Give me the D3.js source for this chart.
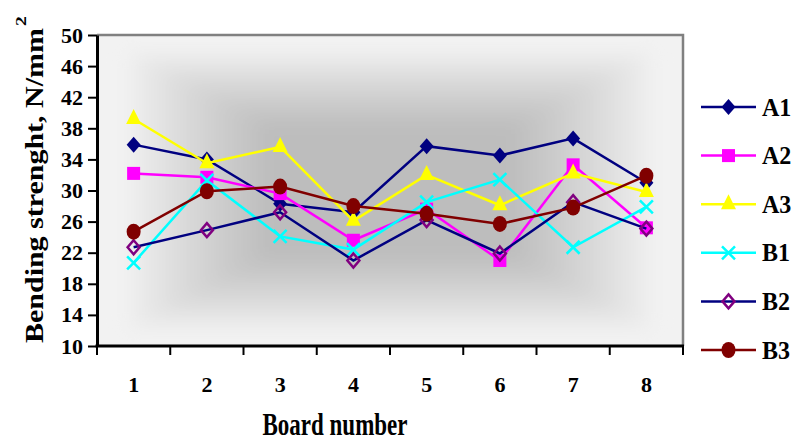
<!DOCTYPE html>
<html>
<head>
<meta charset="utf-8">
<script src="https://cdn.jsdelivr.net/npm/d3@7"></script>
<style>
  body { margin: 0; background: #fff; }
  text { font-family: "Liberation Serif", "Times New Roman", serif; font-weight: bold; fill: #000; }
</style>
</head>
<body>
<svg id="chart" width="795" height="436"></svg>
<script>
// ---------------------------------------------------------------
// data
// ---------------------------------------------------------------
var boards = [1, 2, 3, 4, 5, 6, 7, 8];
var yTicks = [10, 14, 18, 22, 26, 30, 34, 38, 42, 46, 50];

var A1 = [35.9, 34.0, 28.3, 27.2, 35.7, 34.5, 36.7, 31.0];
var A2 = [32.2, 31.7, 29.6, 23.6, 27.6, 21.0, 33.3, 25.2];
var A3 = [39.2, 33.5, 35.6, 26.1, 32.0, 28.1, 32.2, 29.8];
var B1 = [20.7, 31.3, 24.1, 22.4, 28.5, 31.4, 22.7, 27.9];
var B2 = [22.7, 24.9, 27.2, 21.0, 26.2, 21.9, 28.5, 25.1];
var B3 = [24.7, 29.9, 30.5, 28.0, 27.0, 25.7, 27.8, 31.9];

var series = [
  {name: "A1", values: A1, line: "#000080", marker: "diamond", fill: "#000080", stroke: "none"},
  {name: "A2", values: A2, line: "#ff00ff", marker: "square",  fill: "#ff00ff", stroke: "none"},
  {name: "A3", values: A3, line: "#ffff00", marker: "triangle",fill: "#ffff00", stroke: "none"},
  {name: "B1", values: B1, line: "#00ffff", marker: "cross",   fill: "none",    stroke: "#00ffff"},
  {name: "B2", values: B2, line: "#000080", marker: "odiamond",fill: "none",    stroke: "#800080"},
  {name: "B3", values: B3, line: "#800000", marker: "circle",  fill: "#800000", stroke: "none"}
];

// ---------------------------------------------------------------
// layout
// ---------------------------------------------------------------
var pLeft = 97, pRight = 683, pTop = 35, pBottom = 346;
var svg = d3.select("#chart");

var xScale = d3.scaleBand().domain(boards).range([pLeft, pRight]);
var yScale = d3.scaleLinear().domain([10, 50]).range([pBottom, pTop]);

// ---------------------------------------------------------------
// plot background: rectangular "from center" grey gradient
// ---------------------------------------------------------------
var defs = svg.append("defs");
defs.append("clipPath").attr("id", "plotClip")
    .append("rect").attr("x", pLeft).attr("y", pTop)
    .attr("width", pRight - pLeft).attr("height", pBottom - pTop);
defs.append("filter").attr("id", "soft")
    .attr("x", "-10%").attr("y", "-10%").attr("width", "120%").attr("height", "120%")
    .append("feGaussianBlur").attr("stdDeviation", 9);

var bg = svg.append("g").attr("clip-path", "url(#plotClip)");
bg.append("rect").attr("x", pLeft).attr("y", pTop)
  .attr("width", pRight - pLeft).attr("height", pBottom - pTop)
  .attr("fill", "#f2f2f2");

var cx = (pLeft + pRight) / 2, cy = (pTop + pBottom) / 2;
var hw = (pRight - pLeft) / 2, hh = (pBottom - pTop) / 2;
var shade = d3.interpolateRgb("#f2f2f2", "#bdbdbd");
var steps = d3.range(0, 40);
bg.append("g").attr("filter", "url(#soft)")
  .selectAll("rect").data(steps).enter().append("rect")
  .attr("x", function(i) { return cx - hw * (0.92 - i * 0.0225); })
  .attr("y", function(i) { return cy - hh * (0.92 - i * 0.0225); })
  .attr("width", function(i) { return 2 * hw * (0.92 - i * 0.0225); })
  .attr("height", function(i) { return 2 * hh * (0.92 - i * 0.0225); })
  .attr("fill", function(i) { return shade(Math.min(1, Math.pow(i / 22, 0.9))); });

// gray border on top and right
svg.append("path")
   .attr("d", "M" + pLeft + "," + pTop + "H" + pRight + "V" + pBottom)
   .attr("fill", "none").attr("stroke", "#808080").attr("stroke-width", 2.5);

// ---------------------------------------------------------------
// axes
// ---------------------------------------------------------------
var yAxis = d3.axisLeft(yScale).tickValues(yTicks).tickSizeInner(9).tickSizeOuter(0).tickPadding(5);
var gy = svg.append("g").attr("transform", "translate(" + pLeft + ",0)").call(yAxis);
gy.select(".domain").attr("stroke", "#000").attr("stroke-width", 3);
gy.selectAll(".tick line").attr("stroke", "#000").attr("stroke-width", 2);
gy.selectAll("text").style("font-size", "22px").attr("fill", "#000");

// x ticks sit between the categories
var tickPos = d3.range(0, boards.length + 1).map(function(i) { return pLeft + i * xScale.bandwidth(); });
var gx = svg.append("g");
gx.append("line").attr("x1", pLeft - 1.5).attr("x2", pRight + 1).attr("y1", pBottom).attr("y2", pBottom)
  .attr("stroke", "#000").attr("stroke-width", 3);
gx.selectAll("line.tk").data(tickPos).enter().append("line").attr("class", "tk")
  .attr("x1", function(d) { return d; }).attr("x2", function(d) { return d; })
  .attr("y1", pBottom).attr("y2", pBottom + 9)
  .attr("stroke", "#000").attr("stroke-width", 2);
gx.selectAll("text").data(boards).enter().append("text")
  .attr("x", function(d) { return xScale(d) + xScale.bandwidth() / 2; })
  .attr("y", 392)
  .attr("text-anchor", "middle")
  .style("font-size", "22px")
  .text(function(d) { return d; });

// axis titles (tall, narrow lettering as in the source)
svg.append("text")
   .attr("transform", "translate(335,435) scale(1,1.35)")
   .attr("text-anchor", "middle")
   .style("font-size", "23px")
   .text("Board number");

svg.append("text")
   .attr("transform", "translate(43,343) rotate(-90)")
   .attr("textLength", 315)
   .attr("lengthAdjust", "spacingAndGlyphs")
   .style("font-size", "25px")
   .text("Bending strenght, N/mm");
svg.append("text")
   .attr("transform", "translate(26,26) rotate(-90) scale(1.3,1)")
   .style("font-size", "15px")
   .text("2");

// ---------------------------------------------------------------
// markers
// ---------------------------------------------------------------
function drawMarker(g, s) {
  if (s.marker === "diamond") {
    g.append("path").attr("d", "M0,-8L7,0L0,8L-7,0Z").attr("fill", s.fill);
  } else if (s.marker === "square") {
    g.append("rect").attr("x", -6.5).attr("y", -6.5).attr("width", 13).attr("height", 13).attr("fill", s.fill);
  } else if (s.marker === "triangle") {
    g.append("path").attr("d", "M0,-10L7.5,5L-7.5,5Z").attr("fill", s.fill);
  } else if (s.marker === "cross") {
    g.append("path").attr("d", "M-6.5,-6.5L6.5,6.5M-6.5,6.5L6.5,-6.5")
     .attr("stroke", s.stroke).attr("stroke-width", 2.5).attr("fill", "none");
  } else if (s.marker === "odiamond") {
    g.append("path").attr("d", "M0,-7L6,0L0,7L-6,0Z")
     .attr("fill", "none").attr("stroke", s.stroke).attr("stroke-width", 2.5);
  } else if (s.marker === "circle") {
    g.append("ellipse").attr("rx", 7).attr("ry", 8).attr("fill", s.fill);
  }
}

// ---------------------------------------------------------------
// series
// ---------------------------------------------------------------
var line = d3.line()
  .x(function(d, i) { return xScale(boards[i]) + xScale.bandwidth() / 2; })
  .y(function(d) { return yScale(d); });

series.forEach(function(s) {
  var g = svg.append("g");
  g.append("path").datum(s.values)
   .attr("d", line).attr("fill", "none")
   .attr("stroke", s.line).attr("stroke-width", 2.5);
  s.values.forEach(function(v, i) {
    var m = g.append("g").attr("transform",
      "translate(" + (xScale(boards[i]) + xScale.bandwidth() / 2) + "," + yScale(v) + ")");
    drawMarker(m, s);
  });
});

// ---------------------------------------------------------------
// legend
// ---------------------------------------------------------------
var legendY = d3.scalePoint().domain(series.map(function(s) { return s.name; })).range([107, 350]);
series.forEach(function(s) {
  var ly = legendY(s.name);
  var g = svg.append("g");
  g.append("line").attr("x1", 701).attr("x2", 756).attr("y1", ly).attr("y2", ly)
   .attr("stroke", s.line).attr("stroke-width", 2.5);
  drawMarker(g.append("g").attr("transform", "translate(728.5," + ly + ")"), s);
  g.append("text").attr("transform", "translate(762," + (ly + 8.5) + ") scale(1,1.06)")
   .style("font-size", "24px").text(s.name);
});
</script>
</body>
</html>
